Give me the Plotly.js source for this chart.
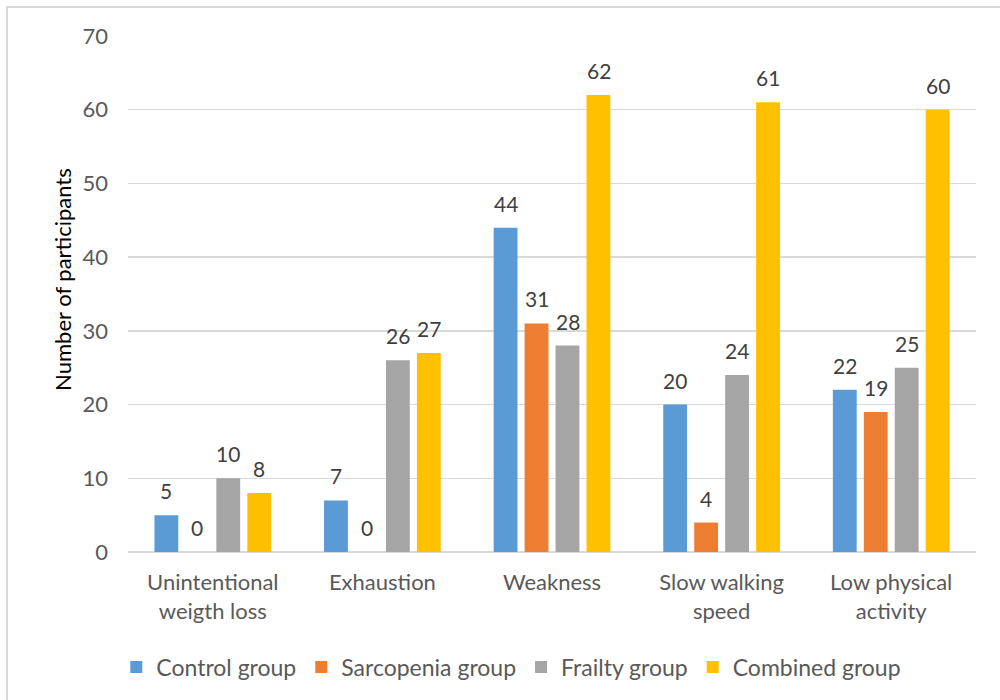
<!DOCTYPE html>
<html>
<head>
<meta charset="utf-8">
<script src="https://cdn.plot.ly/plotly-3.0.1.min.js"></script>
<style>
  html, body { margin: 0; padding: 0; background: #ffffff; overflow: hidden; }
  #frame { position: absolute; left: 6px; top: 6px; width: 1010px; height: 710px;
           border: 2px solid #d9d9d9; box-sizing: border-box; pointer-events: none; }
  #chart { position: absolute; left: 0; top: 0; width: 1000px; height: 700px; }
</style>
</head>
<body>
<div id="chart"></div>
<div id="frame"></div>
<script>
// Frailty criteria by study group
const categories = [
  'Unintentional<br>weigth loss',
  'Exhaustion',
  'Weakness',
  'Slow walking<br>speed',
  'Low physical<br>activity'
];
const seriesNames = ['Control group', 'Sarcopenia group', 'Frailty group', 'Combined group'];
const controlGroup    = [5, 7, 44, 20, 22];
const sarcopeniaGroup = [0, 0, 31, 4, 19];
const frailtyGroup    = [10, 26, 28, 24, 25];
const combinedGroup   = [8, 27, 62, 61, 60];
const yTicks = [0, 10, 20, 30, 40, 50, 60, 70];
const yTitle = 'Number of participants';

const seriesValues = [controlGroup, sarcopeniaGroup, frailtyGroup, combinedGroup];
const seriesColors = ['#5b9bd5', '#ed7d31', '#a5a5a5', '#ffc000'];

const FONT = 'Lato, "Open Sans", sans-serif';
const LABEL_COLOR = '#404040';
const AXIS_COLOR = '#595959';

const traces = seriesValues.map((vals, i) => ({
  type: 'bar',
  name: seriesNames[i],
  x: categories,
  y: vals,
  marker: { color: seriesColors[i] },
  hoverinfo: 'skip'
}));

// value labels above each bar, offset to its slot in the group
const slot = 31;
const annotations = [];
seriesValues.forEach((vals, i) => {
  vals.forEach((v, j) => {
    annotations.push({
      x: categories[j], y: v, xref: 'x', yref: 'y',
      text: String(v), showarrow: false,
      xanchor: 'center', yanchor: 'bottom',
      xshift: (i - 1.5) * slot, yshift: 10,
      font: { family: FONT, size: 21, color: LABEL_COLOR }
    });
  });
});

// vertical axis title, set slightly above the axis midpoint
annotations.push({
  xref: 'paper', yref: 'paper', x: -0.078, y: 0.529,
  xanchor: 'center', yanchor: 'middle', textangle: -90,
  text: yTitle, showarrow: false,
  font: { family: FONT, size: 22, color: '#000000' }
});

const layout = {
  width: 1000, height: 700,
  margin: { l: 128, r: 24, t: 36, b: 148 },
  paper_bgcolor: '#ffffff', plot_bgcolor: '#ffffff',
  font: { family: FONT, size: 22, color: AXIS_COLOR },
  barmode: 'group',
  bargap: 0.27,
  bargroupgap: 0.23,
  showlegend: true,
  legend: {
    orientation: 'h', x: 0.452, xanchor: 'center',
    y: -0.223, yanchor: 'middle',
    font: { family: FONT, size: 23, color: AXIS_COLOR },
    traceorder: 'normal', itemclick: false, itemdoubleclick: false
  },
  xaxis: {
    type: 'category',
    showgrid: false, zeroline: false,
    showline: false, ticks: '',
    ticklabelstandoff: 15,
    tickfont: { family: FONT, size: 22, color: AXIS_COLOR }
  },
  yaxis: {
    range: [0, 70], tickvals: yTicks, ticktext: yTicks.map(String),
    showgrid: true, gridcolor: '#d9d9d9', gridwidth: 1.5,
    zeroline: true, zerolinecolor: '#d9d9d9', zerolinewidth: 1.5,
    showline: false, ticks: '',
    ticklabelstandoff: 19,
    tickfont: { family: FONT, size: 22, color: AXIS_COLOR }
  },
  annotations: annotations
};

Plotly.newPlot('chart', traces, layout, { displayModeBar: false, staticPlot: true });
</script>
</body>
</html>
